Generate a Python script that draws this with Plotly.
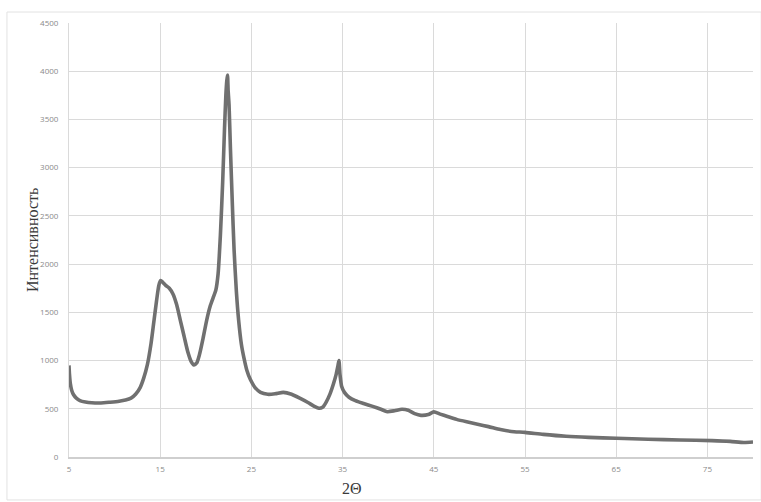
import plotly.graph_objects as go

# 2-theta positions (degrees) and intensity
two_theta = [
    5.0, 5.05, 5.15, 5.3, 5.5, 5.8, 6.2, 6.8, 7.5, 8.5, 9.5, 10.5, 11.2, 11.8,
    12.3, 12.8, 13.2, 13.6, 14.0, 14.3, 14.6, 14.85, 15.05, 15.3, 15.6, 16.0,
    16.4, 16.8, 17.2, 17.6, 18.0, 18.4, 18.7, 19.0, 19.3, 19.7, 20.1, 20.5,
    20.8, 21.1, 21.35, 21.6, 21.85, 22.05, 22.2, 22.3, 22.38, 22.45, 22.55,
    22.7, 22.9, 23.1, 23.35, 23.6, 23.9, 24.2, 24.5, 24.9, 25.4, 26.0, 26.8,
    27.6, 28.5, 29.4, 30.3, 31.2, 31.9, 32.4, 32.8, 33.2, 33.6, 34.0, 34.3,
    34.5, 34.6, 34.72, 34.9, 35.2, 35.7, 36.4, 37.3, 38.3, 39.2, 39.9, 40.7,
    41.5, 42.2, 42.9, 43.6, 44.4, 45.0, 45.7, 46.5, 47.5, 48.6, 49.8, 51.0,
    52.3, 53.5, 55.0, 57.0, 59.5, 62.0, 65.0, 68.5, 72.0, 75.5, 77.5, 79.0,
    80.0,
]
intensity = [
    950, 860, 760, 690, 645, 610, 585, 570, 562, 560, 568, 578, 590, 610,
    650, 720, 820, 960, 1180, 1400, 1620, 1780, 1830, 1810, 1780, 1750,
    1690, 1580, 1420, 1260, 1100, 990, 955, 975, 1060, 1230, 1420, 1570,
    1650, 1730, 1900, 2300, 2850, 3400, 3750, 3900, 3960, 3800, 3650,
    3200, 2650, 2150, 1720, 1420, 1170, 1020, 900, 800, 720, 670, 650,
    655, 670, 650, 610, 565, 525, 505, 515, 570, 650, 760, 860,
    950, 1000, 850, 730, 670, 620, 585, 555, 525, 495, 470, 480,
    495, 485, 450, 432, 440, 468, 445, 420, 390, 365, 340, 315,
    285, 265, 255, 235, 215, 203, 194, 184, 176, 170, 162, 150,
    155,
]

x_ticks = [5, 15, 25, 35, 45, 55, 65, 75]
y_ticks = list(range(0, 4501, 500))

grid = "#dadada"
tick_font = dict(family="Open Sans, sans-serif", size=8, color="#8a8a8a")
title_font = dict(family="Liberation Serif, serif", size=16, color="#3a3a3a")

fig = go.Figure()
fig.add_trace(go.Scatter(
    x=two_theta, y=intensity, mode="lines",
    line=dict(color="#707070", width=3.6, shape="spline", smoothing=0.6),
    showlegend=False,
))

fig.update_xaxes(
    range=[5, 80], tickvals=x_ticks, ticktext=[str(v) for v in x_ticks],
    showgrid=True, gridcolor=grid, gridwidth=1, zeroline=False,
    showline=True, linecolor="#cfcfcf", linewidth=1.5,
    tickfont=tick_font, ticks="", ticklabelstandoff=4,
)
fig.update_yaxes(
    range=[0, 4500], tickvals=y_ticks, ticktext=[str(v) for v in y_ticks],
    showgrid=True, gridcolor=grid, gridwidth=1, zeroline=False,
    showline=True, linecolor=grid, tickfont=tick_font, ticks="",
    ticklabelstandoff=8,
)

fig.update_layout(
    width=761, height=502,
    margin=dict(l=69, r=8, t=23, b=45),
    paper_bgcolor="white", plot_bgcolor="white",
    shapes=[dict(
        type="rect", xref="paper", yref="paper",
        x0=-0.0907, x1=1.012, y0=-0.099, y1=1.0253,
        line=dict(color="#e2e2e2", width=1), layer="below",
    )],
    annotations=[
        dict(text="2Θ", xref="paper", yref="paper", x=0.414, y=-0.072,
             showarrow=False, font=title_font, xanchor="center", yanchor="middle"),
        dict(text="Интенсивность", xref="paper", yref="paper", x=-0.054, y=0.5,
             showarrow=False, font=title_font, textangle=-90,
             xanchor="center", yanchor="middle"),
    ],
)

fig.write_html(
    "out.html",
    config={"displayModeBar": False},
    post_script="document.body.style.margin='0';document.body.style.overflow='hidden';",
)
